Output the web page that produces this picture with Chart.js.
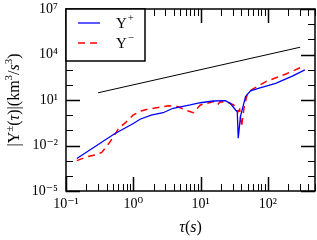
<!DOCTYPE html>
<html>
<head>
<meta charset="utf-8">
<script src="https://cdn.jsdelivr.net/npm/chart.js@4.4.1/dist/chart.umd.min.js"></script>
<style>
html,body{margin:0;padding:0;background:#fff}
</style>
</head>
<body>
<canvas id="chart" width="317" height="240"></canvas>
<script>
// values
const tauPlus = [0.145,0.52,1.0,1.26,1.84,2.77,3.9,7.0,9.9,15.5,23.3,27.6,33,35,36.2,39,46.5,55,72,130,230,353];
const yPlus   = [1.4e-3,0.057,0.28,0.54,1.0,1.45,2.85,4.7,6.6,8.6,9.0,6.0,2.2,1.7,0.03,0.8,16.6,40,59,125,380,960];
const tauMinus = [0.145,0.197,0.27,0.34,0.44,0.515,0.61,0.78,0.99,1.3,1.7,2.0,3.3,4.5,6.3,7.8,9.9,15.5,17.8,19.6,25.9,31,36,38,40.5,44,49.5,58.5,93,185,350];
const yMinus   = [1.0e-3,1.7e-3,2.4e-3,3.5e-3,0.015,0.043,0.14,0.35,1.0,1.9,2.6,2.85,4.1,3.7,2.0,1.45,4.7,7.8,4.7,7.8,6.6,4.7,1.7,2.4,0.17,2.85,27,51,162,520,1800];
const tauRef = [0.3,300];
const yRef   = [30,30000];

const xMajor = [0.1,1,10,100];
const xLabels = ['10⁻¹','10⁰','10¹','10²'];
const yDecades = [1e-5,1e-4,1e-3,1e-2,1e-1,1,10,100,1e3,1e4,1e5,1e6,1e7];
const yMajor = [1e-5,1e-2,1e1,1e4,1e7];
const yLabels = ['10⁻⁵','10⁻²','10¹','10⁴','10⁷'];

function pts(xs, ys){ return xs.map((x,i)=>({x:x, y:ys[i]})); }
function findLabel(v, majors, labels){
    for(let i=0;i<majors.length;i++){
        if(Math.abs(Math.log10(v)-Math.log10(majors[i]))<1e-6) return labels[i];
    }
    return '';
}

const xTicks = [];
[0.1,1,10,100].forEach(d=>{
    for(let m=1;m<=9;m++){ if(d*m<=500) xTicks.push(d*m); }
});

const serif = "'Liberation Serif', 'DejaVu Serif', serif";

function rich(ctx, parts, x, y, angle){
    ctx.save();
    ctx.translate(x,y);
    ctx.rotate(angle);
    let w = 0;
    parts.forEach(p=>{ ctx.font = p.f; w += ctx.measureText(p.t).width; });
    let cx = -w/2;
    ctx.textBaseline = 'alphabetic';
    ctx.textAlign = 'left';
    ctx.fillStyle = '#000';
    parts.forEach(p=>{ ctx.font = p.f; ctx.fillText(p.t, cx, p.dy||0); cx += ctx.measureText(p.t).width; });
    ctx.restore();
}

const decor = {
    id:'decor',
    afterDatasetsDraw(chart){
        const ctx = chart.ctx, a = chart.chartArea;
        const xs = chart.scales.x, ys = chart.scales.y;
        ctx.save();
        ctx.strokeStyle = '#000';
        // x ticks, bottom and top, pointing in
        xs.ticks.forEach(t=>{
            const px = Math.round(xs.getPixelForValue(t.value))+0.5;
            const major = findLabel(t.value, xMajor, xLabels) !== '';
            const len = major ? 14 : 7;
            ctx.lineWidth = major ? 1.5 : 1;
            ctx.beginPath();
            ctx.moveTo(px, a.bottom); ctx.lineTo(px, a.bottom-len);
            ctx.moveTo(px, a.top); ctx.lineTo(px, a.top+len);
            ctx.stroke();
        });
        ys.ticks.forEach(t=>{
            const py = Math.round(ys.getPixelForValue(t.value))+0.5;
            const major = findLabel(t.value, yMajor, yLabels) !== '';
            const len = major ? 14 : 7;
            ctx.lineWidth = major ? 1.5 : 1;
            ctx.beginPath();
            ctx.moveTo(a.left, py); ctx.lineTo(a.left+len, py);
            ctx.moveTo(a.right, py); ctx.lineTo(a.right-len, py);
            ctx.stroke();
        });
        // frame
        ctx.lineWidth = 1.5;
        ctx.strokeRect(a.left, a.top, a.right-a.left, a.bottom-a.top);

        // legend box
        const lx = a.left, ly = a.top, lw = 79, lh = 52;
        ctx.fillStyle = '#fff';
        ctx.fillRect(lx, ly, lw, lh);
        ctx.lineWidth = 1.5;
        ctx.strokeRect(lx, ly, lw, lh);
        const ds = chart.data.datasets;
        [0,1].forEach(i=>{
            const yy = ly + 14 + i*20;
            ctx.strokeStyle = ds[i].borderColor;
            ctx.lineWidth = ds[i].borderWidth;
            ctx.setLineDash(ds[i].borderDash || []);
            ctx.beginPath();
            ctx.moveTo(lx+12, yy); ctx.lineTo(lx+34, yy);
            ctx.stroke();
            ctx.setLineDash([]);
            ctx.fillStyle = '#000';
            ctx.textBaseline = 'alphabetic';
            ctx.textAlign = 'left';
            ctx.font = '15px ' + serif;
            ctx.fillText('Y', lx+50, yy+5);
            const w = ctx.measureText('Y').width;
            ctx.font = '11px ' + serif;
            ctx.fillText(i===0 ? '+' : '−', lx+50+w+1, yy-2);
        });
        ctx.restore();

        // axis titles
        rich(ctx, [
            {t:'τ', f:'italic 16px '+serif},
            {t:'(', f:'16px '+serif},
            {t:'s', f:'italic 16px '+serif},
            {t:')', f:'16px '+serif}
        ], (a.left+a.right)/2, 232, 0);
        rich(ctx, [
            {t:'|Y', f:'16px '+serif},
            {t:'±', f:'11px '+serif, dy:-6},
            {t:'(', f:'16px '+serif},
            {t:'τ', f:'italic 16px '+serif},
            {t:')|(km', f:'16px '+serif},
            {t:'3', f:'11px '+serif, dy:-7},
            {t:'/', f:'16px '+serif},
            {t:'s', f:'italic 16px '+serif},
            {t:'3', f:'11px '+serif, dy:-7},
            {t:')', f:'16px '+serif}
        ], 19, (a.top+a.bottom)/2, -Math.PI/2);
    }
};

new Chart(document.getElementById('chart'), {
    type:'line',
    data:{
        datasets:[
            { label:'Y+', data:pts(tauPlus,yPlus), borderColor:'#0000ff', borderWidth:1.3, pointRadius:0, tension:0, fill:false },
            { label:'Y-', data:pts(tauMinus,yMinus), borderColor:'#ff0000', borderWidth:1.5, borderDash:[7,5], pointRadius:0, tension:0, fill:false },
            { label:'ref', data:pts(tauRef,yRef), borderColor:'#000000', borderWidth:1, pointRadius:0, tension:0, fill:false }
        ]
    },
    options:{
        responsive:false,
        animation:false,
        devicePixelRatio:1,
        layout:{ padding:{ top:9, right:2, left:0, bottom:0 } },
        plugins:{ legend:{display:false}, tooltip:{enabled:false} },
        scales:{
            x:{
                type:'logarithmic', min:0.1, max:500,
                grid:{display:false, drawTicks:false},
                border:{display:false},
                afterBuildTicks:(s)=>{ s.ticks = xTicks.map(v=>({value:v})); },
                afterFit:(s)=>{ s.height = 49; s.paddingLeft = 0; s.paddingRight = 0; },
                ticks:{
                    autoSkip:false, maxRotation:0, padding:5, color:'#000',
                    font:{family:serif, size:14},
                    callback:(v)=>findLabel(v, xMajor, xLabels)
                }
            },
            y:{
                type:'logarithmic', min:1e-5, max:1e7,
                grid:{display:false, drawTicks:false},
                border:{display:false},
                afterBuildTicks:(s)=>{ s.ticks = yDecades.map(v=>({value:v})); },
                afterFit:(s)=>{ s.width = 66; s.paddingTop = 0; s.paddingBottom = 0; },
                ticks:{
                    autoSkip:false, padding:8, color:'#000',
                    font:{family:serif, size:14},
                    callback:(v)=>findLabel(v, yMajor, yLabels)
                }
            }
        }
    },
    plugins:[decor]
});
</script>
</body>
</html>
